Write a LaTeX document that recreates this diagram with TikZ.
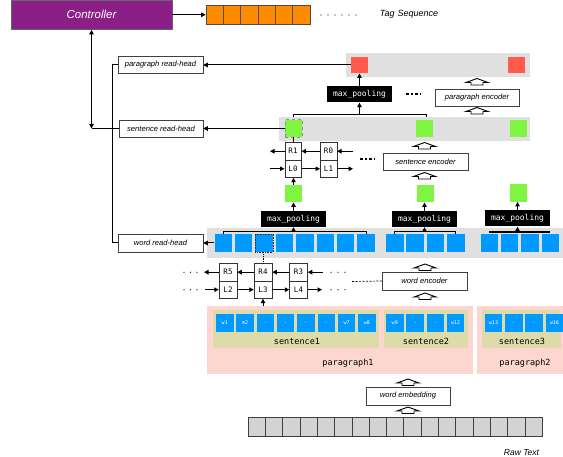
\documentclass[tikz,border=0pt]{standalone}
\usepackage{fontspec}
\setmainfont{Liberation Sans}
\newfontfamily\dmono{DejaVu Sans Mono}
\usetikzlibrary{arrows.meta,calc}
\definecolor{ctrlc}{RGB}{139,30,135}
\definecolor{orng}{RGB}{255,140,0}
\definecolor{redsq}{RGB}{255,90,75}
\definecolor{grnsq}{RGB}{128,245,65}
\definecolor{blusq}{RGB}{0,153,255}
\definecolor{bandc}{RGB}{224,224,224}
\definecolor{pinkc}{RGB}{253,214,208}
\definecolor{olivec}{RGB}{221,219,170}
\definecolor{rawc}{RGB}{211,211,211}
\begin{document}
\begin{tikzpicture}[x=1pt,y=-1pt,
  >={Triangle[length=4.5pt,width=4.5pt]},
  conn/.style={line width=1pt},
  lbl/.style={draw=black!75, line width=0.5pt, fill=white, inner sep=0pt, minimum width=85pt, minimum height=17pt, font=\fontsize{7.6}{9}\selectfont\itshape},
  mpool/.style={fill=black, text=white, inner sep=0pt, minimum width=65pt, minimum height=16pt, font=\dmono\fontsize{8}{9}\selectfont},
  rnn/.style={draw=black!80, line width=0.5pt, fill=white, inner sep=0pt, minimum width=17pt, minimum height=17.5pt, font=\dmono\fontsize{7.5}{9}\selectfont},
  bsq/.style={fill=blusq, inner sep=0pt, minimum width=17.5pt, minimum height=18pt},
  wsq/.style={fill=blusq, text=white, inner sep=0pt, minimum width=17.5pt, minimum height=18pt, font=\dmono\fontsize{5}{6}\selectfont},
  gsq/.style={fill=grnsq, inner sep=0pt, minimum width=17pt, minimum height=17.5pt},
  rsq/.style={fill=redsq, inner sep=0pt, minimum width=17pt, minimum height=16.5pt},
  region/.style={inner sep=0pt},
  grp/.style={font=\dmono\fontsize{8.5}{10}\selectfont},
  harrow/.pic={\draw[line width=0.9pt, fill=white] (-6,0) -- (-6,-2.5) -- (-11,-2.5) -- (0,-6.5) -- (11,-2.5) -- (6,-2.5) -- (6,0) -- cycle;}
]
\useasboundingbox (0,0) rectangle (563,457);

% ---------- controller and tag sequence ----------
\node[draw=black!60, line width=0.6pt, fill=ctrlc, text=white, minimum width=161pt, minimum height=29.5pt, inner sep=0pt, font=\fontsize{11.5}{13}\selectfont\itshape] (ctrl) at (91.5,14.75) {Controller};
\foreach \i in {0,...,5}
  \node[draw=black!70, line width=0.6pt, fill=orng, inner sep=0pt, minimum width=17.3pt, minimum height=18.5pt] (oc\i) at ({206+8.65+17.3*\i},14.75) {};
\foreach \i in {0,...,5}
  \fill (321+7*\i,15) circle (0.55);
\node[font=\fontsize{9}{10}\selectfont\itshape] (tag) at (409,14) {Tag\hspace{3pt}Sequence};
\draw[conn,->] (ctrl.east) -- (oc0.west);

% ---------- bands ----------
\node[region, fill=bandc, minimum width=184pt, minimum height=23.5pt] (pband) at (438,65) {};
\node[region, fill=bandc, minimum width=251pt, minimum height=24pt] (sband) at (404.5,129) {};
\node[region, fill=bandc, minimum width=356pt, minimum height=30pt] (wband) at (385,243) {};

% ---------- paragraph level ----------
\node[rsq] (rs1) at (359.5,65) {};
\node[rsq] (rs2) at (516.5,65) {};
\node[mpool] (mpp) at (359.5,94.5) {max\_pooling};
\node[lbl, minimum width=84pt] (penc) at (477,97.5) {paragraph encoder};
\draw[dash pattern=on 2.5pt off 2pt, line width=1.1pt] (406,94) -- (421,94);
\pic at (477,85) {harrow};
\pic at (477,114) {harrow};

% ---------- sentence level ----------
\node[gsq, draw=black!45, dashed, line width=0.5pt] (gs1) at (293.5,128.5) {};
\node[gsq] (gs2) at (424.5,128.5) {};
\node[gsq] (gs3) at (518.5,128.5) {};
\coordinate (bs) at (359.5,115);
\draw[conn] (gs1 |- sband.north) -- (gs1 |- bs) -- ([xshift=1.5pt]gs2 |- bs) -- ([xshift=1.5pt]gs2 |- sband.north);
\draw[conn,->] (bs) -- (mpp.south);
\draw[conn,->] (mpp.north) -- (rs1.south);

\node[rnn, minimum width=16.5pt] (R1) at (293,151.25) {R1};
\node[rnn, minimum width=16.5pt] (L0) at (293,168.75) {L0};
\node[rnn, minimum width=16.5pt] (R0) at (328.5,151.25) {R0};
\node[rnn, minimum width=16.5pt] (L1) at (328.5,168.75) {L1};
\coordinate (srl) at (270,151.25);
\coordinate (srr) at (353,151.25);
\coordinate (sll) at (270,168.75);
\coordinate (slr) at (353,168.75);
\draw[conn,->] (R0.west) -- (R1.east);
\draw[conn,->] (R1.west) -- (srl);
\draw[conn,->] (srr) -- (R0.east);
\draw[conn,->] (sll) -- (L0.west);
\draw[conn,->] (L0.east) -- (L1.west);
\draw[conn,->] (L1.east) -- (slr);
\draw[conn] (R1.north) -- (R1.north |- gs1.south);
\draw[dash pattern=on 2.5pt off 2pt, line width=1.1pt] (360,159) -- (374,159);

\node[lbl] (senc) at (425.5,162) {sentence encoder};
\pic at (424.5,149) {harrow};
\pic at (424.5,179) {harrow};

\node[gsq] (gw1) at (293.5,193.5) {};
\node[gsq] (gw2) at (425.5,193.5) {};
\node[gsq] (gw3) at (518,193) {};
\draw[conn,->] (gw1.north) -- (L0.south -| gw1.north);

\node[mpool] (mp1) at (293.5,219) {max\_pooling};
\node[mpool] (mp2) at (424.5,219) {max\_pooling};
\node[mpool] (mp3) at (517.5,218.5) {max\_pooling};
\draw[conn,->] (mp1.north) -- (gw1.south);
\draw[conn,->] (mp2.north) -- (mp2.north |- gw2.south);
\draw[conn,->] (mp3.north) -- (mp3.north |- gw3.south);

% ---------- word level ----------
\foreach \i in {0,1,3,4,5,6,7}
  \node[bsq] (ws\i) at ({223.25+20.4*\i},243) {};
\node[bsq, draw=black!80, densely dotted, line width=0.6pt] (ws2) at ({223.25+20.4*2},243) {};
\foreach \i in {0,...,3}
  \node[bsq] (wt\i) at ({394.75+20.4*\i},243) {};
\foreach \i in {0,...,3}
  \node[bsq] (wu\i) at ({489.25+20.4*\i},243) {};

\coordinate (br1) at (293.5,232);
\coordinate (br2) at (424.5,232);
\coordinate (br3) at (517.5,232);
\draw[conn] (ws0.north) -- (ws0.north |- br1) -- (ws7.north |- br1) -- (ws7.north);
\draw[conn] (wt0.north) -- (wt0.north |- br2) -- (wt3.north |- br2) -- (wt3.north);
\draw[line width=1.1pt] (wu0.north |- br3) -- (wu3.north |- br3);
\draw[conn,->] (br1) -- (mp1.south);
\draw[conn,->] (br2) -- (mp2.south);
\draw[conn,->] (br3) -- (mp3.south);

\node[rnn, minimum width=18pt] (R5) at (228,272.2) {R5};
\node[rnn, minimum width=18pt] (L2) at (228,289.7) {L2};
\node[rnn, minimum width=18pt] (R4) at (263,272.2) {R4};
\node[rnn, minimum width=18pt] (L3) at (263,289.7) {L3};
\node[rnn, minimum width=18pt] (R3) at (298.5,272.2) {R3};
\node[rnn, minimum width=18pt] (L4) at (298.5,289.7) {L4};
\coordinate (wrl) at (204,272.2);
\coordinate (wrr) at (323,272.2);
\coordinate (wll) at (205,289.7);
\coordinate (wlr) at (322,289.7);
\draw[conn,->] (R3.west) -- (R4.east);
\draw[conn,->] (R4.west) -- (R5.east);
\draw[conn,->] (R5.west) -- (wrl);
\draw[conn,->] (wrr) -- (R3.east);
\draw[conn,->] (wll) -- (L2.west);
\draw[conn,->] (L2.east) -- (L3.west);
\draw[conn,->] (L3.east) -- (L4.west);
\draw[conn,->] (L4.east) -- (wlr);
\foreach \yy in {272.2,289.7}{
  \foreach \xx in {184,190.5,197,331,338,345}
    \fill (\xx,\yy) circle (0.6);
}
\draw[densely dotted, line width=0.8pt] (R4.north |- ws2.south) -- (R4.north);

\node[lbl, minimum height=18pt] (wenc) at (424.5,281) {word encoder};
\draw[dash pattern=on 2pt off 1.5pt, line width=0.7pt] (352,281.5) -- (wenc.west);
\pic at (425,270.5) {harrow};
\pic at (425,299.5) {harrow};

% ---------- read heads ----------
\node[lbl] (prh) at (160.5,65) {paragraph read-head};
\node[lbl, minimum width=84pt] (srh) at (161,128.5) {sentence read-head};
\node[lbl, minimum height=18pt] (wrh) at (160.5,243) {word read-head};
\draw[conn,->] (rs1.west) -- (prh.east);
\draw[conn,->] (gs1.west) -- (srh.east);
\draw[conn,->] (ws0.west) -- (wrh.east);
\coordinate (lv) at (112,0);
\draw[conn] (prh.west) -- (prh.west -| lv) -- (wrh.west -| lv) -- (wrh.west);
\draw[conn,<->] (ctrl.south) -- (ctrl.south |- srh.west);
\draw[conn] (ctrl.south |- srh.west) -- (srh.west);

% ---------- text hierarchy ----------
\node[region, fill=pinkc, minimum width=266pt, minimum height=68pt] (para1) at (340,340) {};
\node[region, fill=pinkc, minimum width=86pt, minimum height=68pt] (para2) at (520,340) {};
\node[region, fill=olivec, minimum width=166pt, minimum height=38pt] (sent1) at (296,329) {};
\node[region, fill=olivec, minimum width=84pt, minimum height=38pt] (sent2) at (426,329) {};
\node[region, fill=olivec, minimum width=79pt, minimum height=38pt] (sent3) at (521.5,329) {};
\foreach \t [count=\i from 0] in {w1,m2,.,.,.,.,w7,w8}
  \node[wsq] (x\i) at ({224.75+20.3*\i},323) {\t};
\foreach \t [count=\i from 0] in {w9,.,.,w12}
  \node[wsq] (y\i) at ({394.75+20.3*\i},323) {\t};
\foreach \t [count=\i from 0] in {w13,.,.,w16}
  \node[wsq] (z\i) at ({493.5+20.3*\i},323) {\t};
\node[grp] (s1l) at (297,341) {sentence1};
\node[grp] (s2l) at (426,341) {sentence2};
\node[grp] (s3l) at (522,341) {sentence3};
\node[grp] (p1l) at (348,363) {paragraph1};
\node[grp] (p2l) at (525,363) {paragraph2};
\draw[conn,->] (L3.south |- para1.north) -- (L3.south);

% ---------- embedding and raw text ----------
\node[lbl, minimum width=84pt, minimum height=18pt] (wemb) at (408,396) {word embedding};
\pic at (408,385.5) {harrow};
\pic at (408,413.5) {harrow};
\foreach \i in {0,...,16}
  \node[draw=black!75, line width=0.6pt, fill=rawc, inner sep=0pt, minimum width=17.3pt, minimum height=19pt] (raw\i) at ({248+8.65+17.3*\i},426.5) {};
\node[font=\fontsize{8.5}{10}\selectfont\itshape] (rawl) at (521.5,453) {Raw Text};
\end{tikzpicture}
\end{document}
